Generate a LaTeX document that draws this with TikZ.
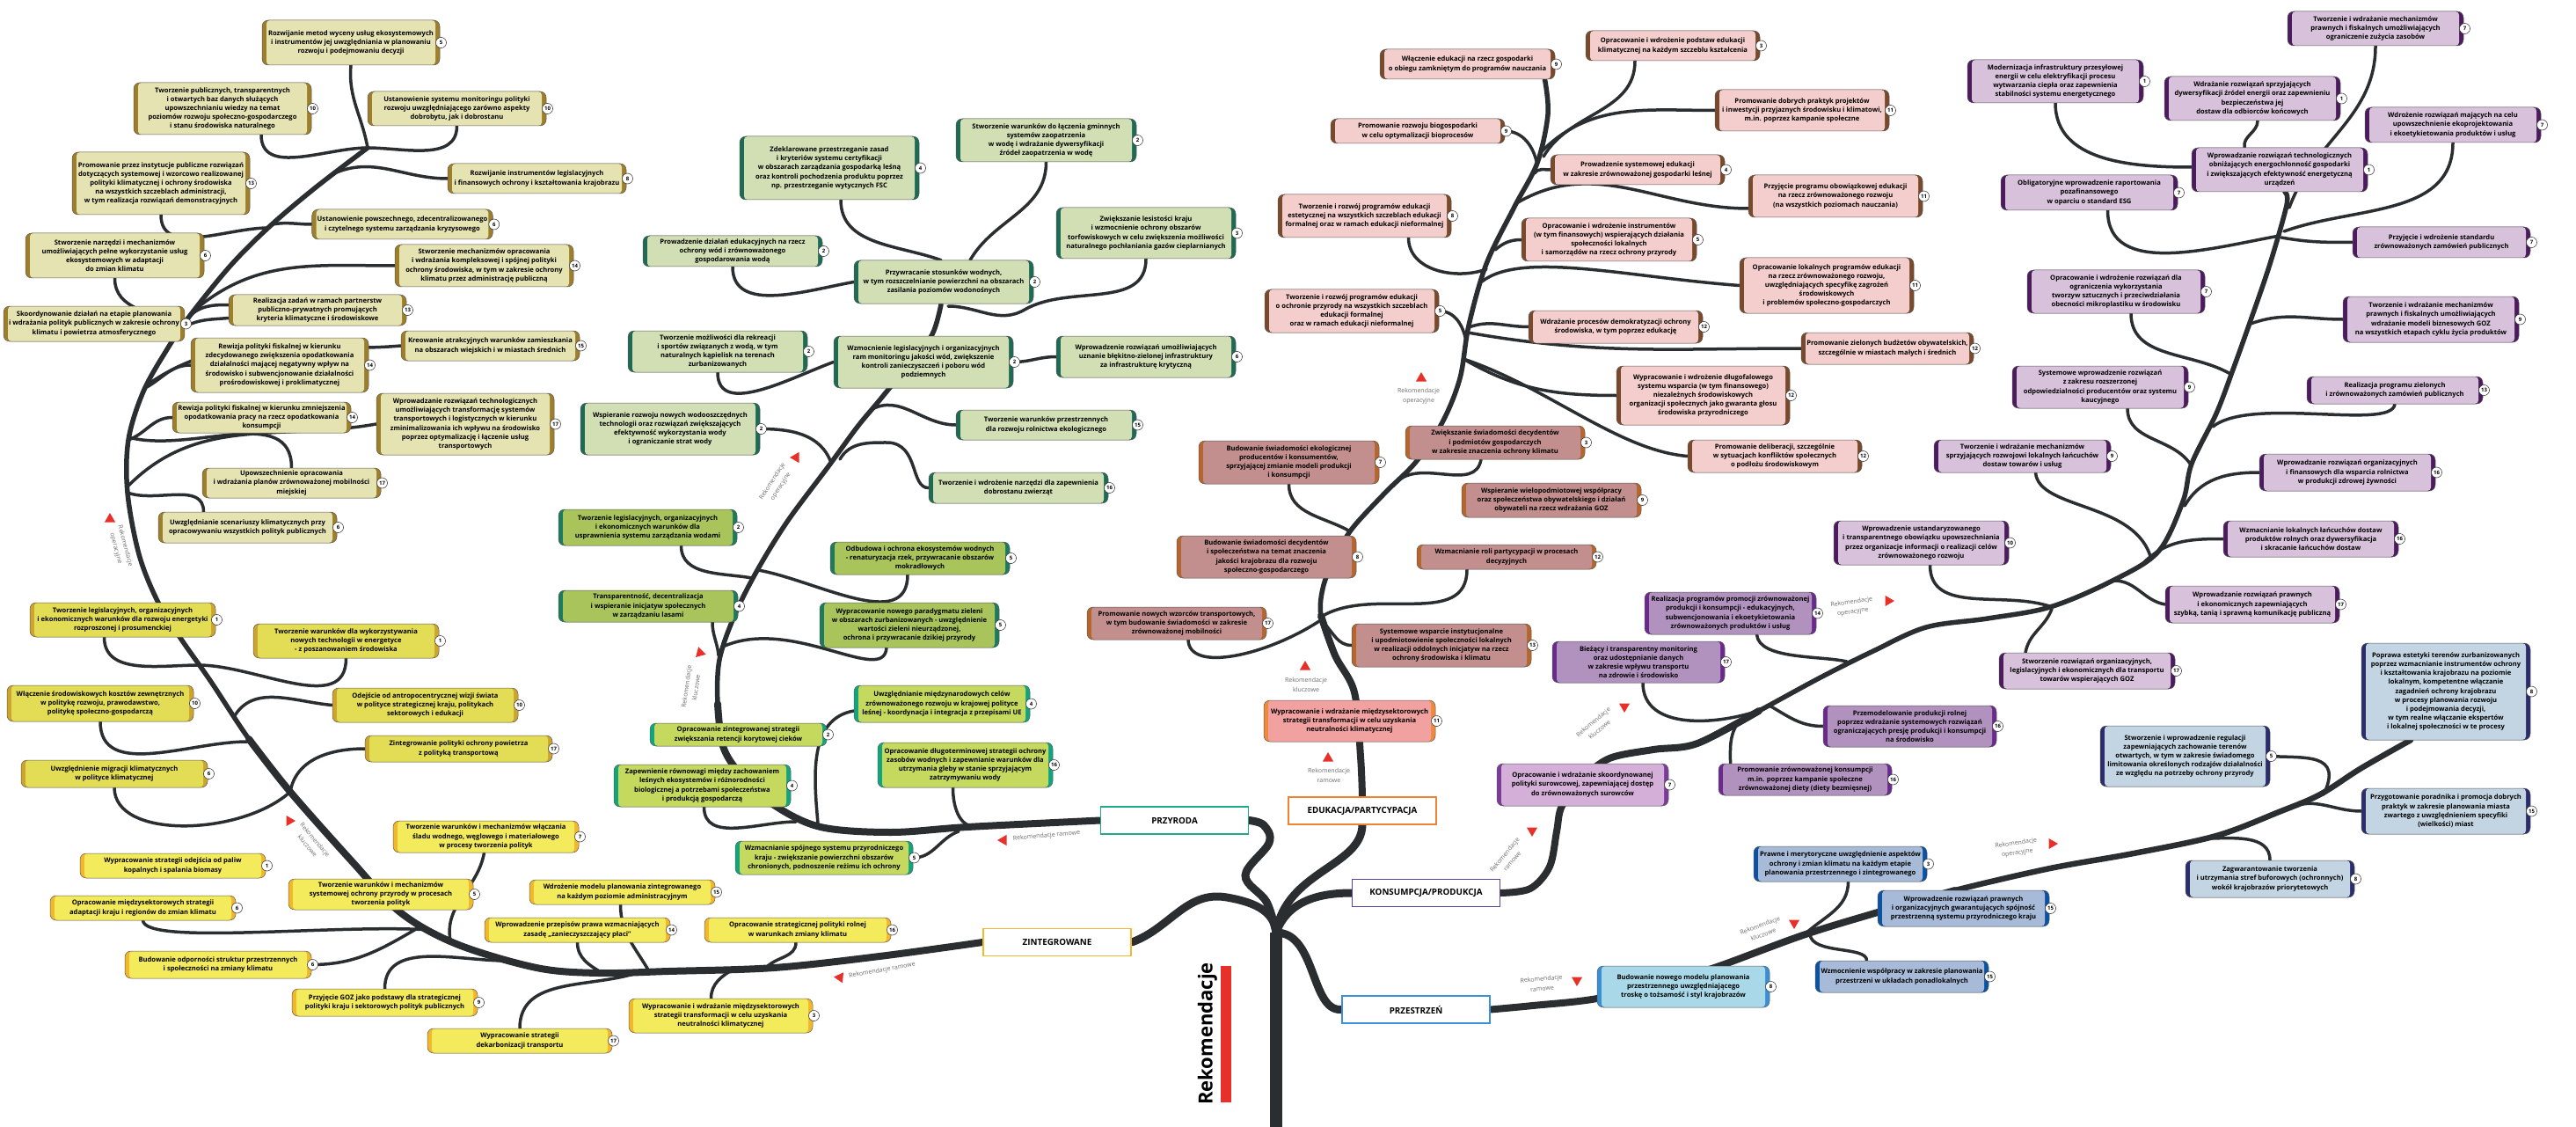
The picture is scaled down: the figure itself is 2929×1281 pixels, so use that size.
\documentclass[tikz,border=0pt]{standalone}
\usepackage{fontspec}
\setmainfont{Open Sans}
\usetikzlibrary{shapes.geometric}
\pgfdeclarelayer{bg}
\pgfsetlayers{bg,main}

% colours of the tree
\definecolor{treec}{HTML}{2B2E31}
\definecolor{redc}{HTML}{E8302A}
\definecolor{labc}{HTML}{6B6B6B}
\definecolor{zopF}{HTML}{E6E3B3}\definecolor{zopS}{HTML}{9C7E2B}
\definecolor{zklF}{HTML}{E3DD56}\definecolor{zklS}{HTML}{CDA42D}
\definecolor{zraF}{HTML}{F4EB5C}\definecolor{zraS}{HTML}{F2B82B}
\definecolor{popF}{HTML}{D2DEB3}\definecolor{popS}{HTML}{1E6A54}
\definecolor{pklF}{HTML}{AAC45C}\definecolor{pklS}{HTML}{1D7A5F}
\definecolor{praF}{HTML}{C4D95E}\definecolor{praS}{HTML}{12A47F}
\definecolor{eopF}{HTML}{F4CECC}\definecolor{eopS}{HTML}{784A2B}
\definecolor{eklF}{HTML}{C28F8E}\definecolor{eklS}{HTML}{B4662D}
\definecolor{eraF}{HTML}{F1A1A0}\definecolor{eraS}{HTML}{F08A3A}
\definecolor{kopF}{HTML}{D8C1DB}\definecolor{kopS}{HTML}{4C1B5E}
\definecolor{kklF}{HTML}{B192BE}\definecolor{kklS}{HTML}{6A2A8C}
\definecolor{kraF}{HTML}{D4AFD7}\definecolor{kraS}{HTML}{7B3B99}
\definecolor{sopF}{HTML}{C3D5E3}\definecolor{sopS}{HTML}{2A2C6C}
\definecolor{sklF}{HTML}{A7BBD9}\definecolor{sklS}{HTML}{0B52A3}
\definecolor{sraF}{HTML}{A9D9E8}\definecolor{sraS}{HTML}{3A8FD4}
\definecolor{przyC}{HTML}{1FA98A}
\definecolor{zintC}{HTML}{F5B82B}
\definecolor{eduC}{HTML}{F08233}
\definecolor{konsC}{HTML}{5B41A0}
\definecolor{przC}{HTML}{3A91D9}

\newcommand{\boxfill}[1]{\fill[#1, rounded corners=4pt] ([xshift=5pt]path picture bounding box.south west) rectangle ([xshift=-5pt]path picture bounding box.north east);}

\tikzstyle{rec} = [rectangle, rounded corners=7pt, draw=black!65, line width=0.5pt, align=center, inner xsep=6pt, inner ysep=2pt, font=\fontsize{7.6}{10.2}\selectfont\bfseries]
\tikzstyle{zintop} = [rec, fill=zopS, path picture={\boxfill{zopF}}]
\tikzstyle{zintkl} = [rec, fill=zklS, path picture={\boxfill{zklF}}]
\tikzstyle{zintram} = [rec, fill=zraS, path picture={\boxfill{zraF}}]
\tikzstyle{przyop} = [rec, fill=popS, path picture={\boxfill{popF}}]
\tikzstyle{przykl} = [rec, fill=pklS, path picture={\boxfill{pklF}}]
\tikzstyle{przyram} = [rec, fill=praS, path picture={\boxfill{praF}}]
\tikzstyle{eduop} = [rec, fill=eopS, path picture={\boxfill{eopF}}]
\tikzstyle{edukl} = [rec, fill=eklS, path picture={\boxfill{eklF}}]
\tikzstyle{eduram} = [rec, fill=eraS, path picture={\boxfill{eraF}}]
\tikzstyle{konsop} = [rec, fill=kopS, path picture={\boxfill{kopF}}]
\tikzstyle{konskl} = [rec, fill=kklS, path picture={\boxfill{kklF}}]
\tikzstyle{konsram} = [rec, fill=kraS, path picture={\boxfill{kraF}}]
\tikzstyle{przop} = [rec, fill=sopS, path picture={\boxfill{sopF}}]
\tikzstyle{przkl} = [rec, fill=sklS, path picture={\boxfill{sklF}}]
\tikzstyle{przram} = [rec, fill=sraS, path picture={\boxfill{sraF}}]
\tikzstyle{badge} = [circle, draw=black!85, line width=0.5pt, fill=white, inner sep=0pt, minimum size=12pt, font=\fontsize{6}{6}\selectfont\bfseries]
\tikzstyle{catbox} = [rectangle, fill=white, line width=1.6pt, minimum width=168pt, minimum height=31pt, font=\fontsize{9.8}{11}\selectfont\bfseries]
\tikzstyle{tri} = [regular polygon, regular polygon sides=3, fill=redc, inner sep=0pt, minimum size=14pt]
\tikzstyle{reklab} = [align=center, text=labc, font=\fontsize{7}{11}\selectfont]
\tikzstyle{trunk} = [draw=treec, line width=14pt]
\tikzstyle{link} = [draw=treec, line width=9pt, line cap=round]
\tikzstyle{bough} = [draw=treec, line width=5.5pt, line cap=round]
\tikzstyle{twig} = [draw=treec, line width=3.5pt, line cap=round]
\tikzset{num/.style={label={[badge]east:#1}}, wh/.style 2 args={minimum width=#1pt, minimum height=#2pt}}

\begin{document}
\begin{tikzpicture}[x=1pt, y=1pt, label distance=-5pt]
\useasboundingbox (0,0) rectangle (2929,-1281);

% main groups
\node (przy) [catbox, draw=przyC] at (1335.5,-932.5) {PRZYRODA};
\node (zint) [catbox, draw=zintC] at (1202,-1071) {ZINTEGROWANE};
\node (edu) [catbox, draw=eduC] at (1549,-921.5) {EDUKACJA/PARTYCYPACJA};
\node (kons) [catbox, draw=konsC] at (1621.5,-1015) {KONSUMPCJA/PRODUKCJA};
\node (prz) [catbox, draw=przC] at (1610,-1147.5) {PRZESTRZEŃ};

\node (rek) [rotate=90, font=\fontsize{22}{24}\selectfont\bfseries] at (1373,-1175) {Rekomendacje};
\node (bar) [fill=redc, minimum width=12pt, minimum height=155pt, inner sep=0pt] at (1394,-1175.5) {};

% ZINTEGROWANE
\node (a1) [zintop, num=5, wh={202}{51}] at (399,-48.5) {Rozwijanie metod wyceny usług ekosystemowych\\i instrumentów jej uwzględniania w planowaniu\\rozwoju i podejmowaniu decyzji};
\node (a2) [zintop, num=10, wh={202}{59}] at (253,-123.5) {Tworzenie publicznych, transparentnych\\i otwartych baz danych służących\\upowszechnianiu wiedzy na temat\\poziomów rozwoju społeczno-gospodarczego\\i stanu środowiska naturalnego};
\node (a3) [zintop, num=10, wh={203}{39}] at (519.5,-123.5) {Ustanowienie systemu monitoringu polityki\\rozwoju uwzględniającego zarówno aspekty\\dobrobytu, jak i dobrostanu};
\node (a4) [zintop, num=8, wh={203}{34}] at (610.5,-203) {Rozwijanie instrumentów legislacyjnych\\i finansowych ochrony i kształtowania krajobrazu};
\node (a5) [zintop, num=13, wh={202}{71}] at (183,-208.5) {Promowanie przez instytucje publiczne rozwiązań\\dotyczących systemowej i wzorcowo realizowanej\\polityki klimatycznej i ochrony środowiska\\na wszystkich szczeblach administracji,\\w tym realizacja rozwiązań demonstracyjnych};
\node (a6) [zintop, num=6, wh={203}{34}] at (457.5,-255) {Ustanowienie powszechnego, zdecentralizowanego\\i czytelnego systemu zarządzania kryzysowego};
\node (a7) [zintop, num=6, wh={203}{51}] at (130.5,-290.5) {Stworzenie narzędzi i mechanizmów\\umożliwiających pełne wykorzystanie usług\\ekosystemowych w adaptacji\\do zmian klimatu};
\node (a8) [zintop, num=14, wh={203}{48}] at (550.5,-302) {Stworzenie mechanizmów opracowania\\i wdrażania kompleksowej i spójnej polityki\\ochrony środowiska, w tym w zakresie ochrony\\klimatu przez administrację publiczną};
\node (a9) [zintop, num=3, wh={204}{40}] at (107,-368) {Skoordynowanie działań na etapie planowania\\i wdrażania polityk publicznych w zakresie ochrony\\klimatu i powietrza atmosferycznego};
\node (a10) [zintop, num=13, wh={202}{35}] at (361,-352.5) {Realizacja zadań w ramach partnerstw\\publiczno-prywatnych promujących\\kryteria klimatyczne i środowiskowe};
\node (a11) [zintop, num=15, wh={203}{34}] at (557.5,-393) {Kreowanie atrakcyjnych warunków zamieszkania\\na obszarach wiejskich i w miastach średnich};
\node (a12) [zintop, num=14, wh={202}{62}] at (318,-415) {Rewizja polityki fiskalnej w kierunku\\zdecydowanego zwiększenia opodatkowania\\działalności mającej negatywny wpływ na\\środowisko i subwencjonowanie działalności\\prośrodowiskowej i proklimatycznej};
\node (a13) [zintop, num=14, wh={203}{35}] at (297.5,-474.5) {Rewizja polityki fiskalnej w kierunku zmniejszenia\\opodatkowania pracy na rzecz opodatkowania\\konsumpcji};
\node (a14) [zintop, num=17, wh={202}{70}] at (529,-482) {Wprowadzanie rozwiązań technologicznych\\umożliwiających transformację systemów\\transportowych i logistycznych w kierunku\\zminimalizowania ich wpływu na środowisko\\poprzez optymalizację i łączenie usług\\transportowych};
\node (a15) [zintop, num=17, wh={203}{34}] at (331.5,-549) {Upowszechnienie opracowania\\i wdrażania planów zrównoważonej mobilności\\miejskiej};
\node (a16) [zintop, num=6, wh={203}{35}] at (281.5,-599.5) {Uwzględnianie scenariuszy klimatycznych przy\\opracowywaniu wszystkich polityk publicznych};
\node (b1) [zintkl, num=1, wh={211}{39}] at (139.5,-704.5) {Tworzenie legislacyjnych, organizacyjnych\\i ekonomicznych warunków dla rozwoju energetyki\\rozproszonej i prosumenckiej};
\node (b2) [zintkl, num=1, wh={211}{39}] at (393.5,-728.5) {Tworzenie warunków dla wykorzystywania\\nowych technologii w energetyce\\- z poszanowaniem środowiska};
\node (b3) [zintkl, num=10, wh={212}{41}] at (114,-799.5) {Włączenie środowiskowych kosztów zewnętrznych\\w politykę rozwoju, prawodawstwo,\\politykę społeczno-gospodarczą};
\node (b4) [zintkl, num=10, wh={211}{39}] at (483.5,-801.5) {Odejście od antropocentrycznej wizji świata\\w polityce strategicznej kraju, politykach\\sektorowych i edukacji};
\node (b5) [zintkl, num=17, wh={213}{30}] at (521.5,-851) {Zintegrowanie polityki ochrony powietrza\\z polityką transportową};
\node (b6) [zintkl, num=6, wh={212}{31}] at (130,-879.5) {Uwzględnienie migracji klimatycznych\\w polityce klimatycznej};
\node (b7) [zintram, num=1, wh={211}{28}] at (196.5,-984) {Wypracowanie strategii odejścia od paliw\\kopalnych i spalania biomasy};
\node (b8) [zintram, num=6, wh={211}{28}] at (162.5,-1032) {Opracowanie międzysektorowych strategii\\adaptacji kraju i regionów do zmian klimatu};
\node (b9) [zintram, num=6, wh={212}{31}] at (248,-1096.5) {Budowanie odporności struktur przestrzennych\\i społeczności na zmiany klimatu};
\node (b10) [zintram, num=5, wh={210}{35}] at (433,-1016.5) {Tworzenie warunków i mechanizmów\\systemowej ochrony przyrody w procesach\\tworzenia polityk};
\node (b11) [zintram, num=7, wh={211}{36}] at (552.5,-951) {Tworzenie warunków i mechanizmów włączania\\śladu wodnego, węglowego i materiałowego\\w procesy tworzenia polityk};
\node (b12) [zintram, num=9, wh={211}{31}] at (437.5,-1139.5) {Przyjęcie GOZ jako podstawy dla strategicznej\\polityki kraju i sektorowych polityk publicznych};
\node (b13) [zintram, num=17, wh={210}{28}] at (591,-1183) {Wypracowanie strategii\\dekarbonizacji transportu};
\node (b14) [zintram, num=15, wh={211}{28}] at (707.5,-1014) {Wdrożenie modelu planowania zintegrowanego\\na każdym poziomie administracyjnym};
\node (b15) [zintram, num=14, wh={211}{28}] at (656.5,-1057) {Wprowadzenie przepisów prawa wzmacniających\\zasadę „zanieczyszczający płaci”};
\node (b16) [zintram, num=16, wh={212}{28}] at (907,-1057) {Opracowanie strategicznej polityki rolnej\\w warunkach zmiany klimatu};
\node (b17) [zintram, num=3, wh={209}{39}] at (819.5,-1154.5) {Wypracowanie i wdrażanie międzysektorowych\\strategii transformacji w celu uzyskania\\neutralności klimatycznej};

% PRZYRODA
\node (c1) [przyop, num=4, wh={204}{72}] at (943,-191) {Zdeklarowane przestrzeganie zasad\\i kryteriów systemu certyfikacji\\w obszarach zarządzania gospodarką leśną\\oraz kontroli pochodzenia produktu poprzez\\np. przestrzeganie wytycznych FSC};
\node (c2) [przyop, num=2, wh={205}{49}] at (1189.5,-159.5) {Stworzenie warunków do łączenia gminnych\\systemów zaopatrzenia\\w wodę i wdrażanie dywersyfikacji\\źródeł zaopatrzenia w wodę};
\node (c3) [przyop, num=2, wh={204}{35}] at (833,-285.5) {Prowadzenie działań edukacyjnych na rzecz\\ochrony wód i zrównoważonego\\gospodarowania wodą};
\node (c4) [przyop, num=2, wh={204}{49}] at (1073,-320.5) {Przywracanie stosunków wodnych,\\w tym rozszczelnianie powierzchni na obszarach\\zasilania poziomów wodonośnych};
\node (c5) [przyop, num=3, wh={204}{58}] at (1303,-265) {Zwiększanie lesistości kraju\\i wzmocnienie ochrony obszarów\\torfowiskowych w celu zwiększenia możliwości\\naturalnego pochłaniania gazów cieplarnianych};
\node (c6) [przyop, num=2, wh={204}{47}] at (816,-399.5) {Tworzenie możliwości dla rekreacji\\i sportów związanych z wodą, w tym\\naturalnych kąpielisk na terenach\\zurbanizowanych};
\node (c7) [przyop, num=2, wh={204}{59}] at (1050,-411.5) {Wzmocnienie legislacyjnych i organizacyjnych\\ram monitoringu jakości wód, zwiększenie\\kontroli zanieczyszczeń i poboru wód\\podziemnych};
\node (c8) [przyop, num=6, wh={204}{47}] at (1303,-405.5) {Wprowadzenie rozwiązań umożliwiających\\uznanie błękitno-zielonej infrastruktury\\za infrastrukturę krytyczną};
\node (c9) [przyop, num=2, wh={204}{59}] at (762,-487.5) {Wspieranie rozwoju nowych wodooszczędnych\\technologii oraz rozwiązań zwiększających\\efektywność wykorzystania wody\\i ograniczanie strat wody};
\node (c10) [przyop, num=15, wh={205}{34}] at (1189.5,-483) {Tworzenie warunków przestrzennych\\dla rozwoju rolnictwa ekologicznego};
\node (c11) [przyop, num=16, wh={204}{35}] at (1158,-554.5) {Tworzenie i wdrożenie narzędzi dla zapewnienia\\dobrostanu zwierząt};
\node (c12) [przykl, num=2, wh={203}{41}] at (736.5,-599.5) {Tworzenie legislacyjnych, organizacyjnych\\i ekonomicznych warunków dla\\usprawnienia systemu zarządzania wodami};
\node (c13) [przykl, num=4, wh={204}{36}] at (737,-689) {Transparentność, decentralizacja\\i wspieranie inicjatyw społecznych\\w zarządzaniu lasami};
\node (c14) [przykl, num=5, wh={204}{37}] at (1046,-634.5) {Odbudowa i ochrona ekosystemów wodnych\\- renaturyzacja rzek, przywracanie obszarów\\mokradłowych};
\node (c15) [przykl, num=5, wh={204}{51}] at (1034,-710.5) {Wypracowanie nowego paradygmatu zieleni\\w obszarach zurbanizowanych - uwzględnienie\\wartości zieleni nieurządzonej,\\ochrona i przywracanie dzikiej przyrody};
\node (c16) [przyram, num=4, wh={200}{42}] at (1071,-800) {Uwzględnianie międzynarodowych celów\\zrównoważonego rozwoju w krajowej polityce\\leśnej - koordynacja i integracja z przepisami UE};
\node (c17) [przyram, num=2, wh={201}{26}] at (839.5,-835) {Opracowanie zintegrowanej strategii\\zwiększania retencji korytowej cieków};
\node (c18) [przyram, num=16, wh={199}{51}] at (1097.5,-869.5) {Opracowanie długoterminowej strategii ochrony\\zasobów wodnych i zapewnianie warunków dla\\utrzymania gleby w stanie sprzyjającym\\zatrzymywaniu wody};
\node (c19) [przyram, num=4, wh={201}{48}] at (798.5,-893) {Zapewnienie równowagi między zachowaniem\\leśnych ekosystemów i różnorodności\\biologicznej a potrzebami społeczeństwa\\i produkcją gospodarczą};
\node (c20) [przyram, num=5, wh={202}{38}] at (937,-975) {Wzmacnianie spójnego systemu przyrodniczego\\kraju - zwiększanie powierzchni obszarów\\chronionych, podnoszenie reżimu ich ochrony};

% EDUKACJA/PARTYCYPACJA
\node (d1) [eduop, num=9, wh={199}{34}] at (1668.5,-73) {Włączenie edukacji na rzecz gospodarki\\o obiegu zamkniętym do programów nauczania};
\node (d2) [eduop, num=3, wh={198}{34}] at (1902,-52) {Opracowanie i wdrożenie podstaw edukacji\\klimatycznej na każdym szczeblu kształcenia};
\node (d3) [eduop, num=9, wh={198}{28}] at (1612,-149) {Promowanie rozwoju biogospodarki\\w celu optymalizacji bioprocesów};
\node (d4) [eduop, num=11, wh={198}{47}] at (2049,-125.5) {Promowanie dobrych praktyk projektów\\i inwestycji przyjaznych środowisku i klimatowi,\\m.in. poprzez kampanie społeczne};
\node (d5) [eduop, num=4, wh={198}{34}] at (1862,-193) {Prowadzenie systemowej edukacji\\w zakresie zrównoważonej gospodarki leśnej};
\node (d6) [eduop, num=11, wh={198}{48}] at (2087,-223) {Przyjęcie programu obowiązkowej edukacji\\na rzecz zrównoważonego rozwoju\\(na wszystkich poziomach nauczania)};
\node (d7) [eduop, num=8, wh={197}{49}] at (1551.5,-245.5) {Tworzenie i rozwój programów edukacji\\estetycznej na wszystkich szczeblach edukacji\\formalnej oraz w ramach edukacji nieformalnej};
\node (d8) [eduop, num=5, wh={199}{49}] at (1829.5,-272.5) {Opracowanie i wdrożenie instrumentów\\(w tym finansowych) wspierających działania\\społeczności lokalnych\\i samorządów na rzecz ochrony przyrody};
\node (d9) [eduop, num=11, wh={198}{63}] at (2077,-324.5) {Opracowanie lokalnych programów edukacji\\na rzecz zrównoważonego rozwoju,\\uwzględniających specyfikę zagrożeń\\środowiskowych\\i problemów społeczno-gospodarczych};
\node (d10) [eduop, num=5, wh={198}{49}] at (1537,-353.5) {Tworzenie i rozwój programów edukacji\\o ochronie przyrody na wszystkich szczeblach\\edukacji formalnej\\oraz w ramach edukacji nieformalnej};
\node (d11) [eduop, num=12, wh={198}{37}] at (1837,-371.5) {Wdrażanie procesów demokratyzacji ochrony\\środowiska, w tym poprzez edukację};
\node (d12) [eduop, num=12, wh={196}{36}] at (2146,-396) {Promowanie zielonych budżetów obywatelskich,\\szczególnie w miastach małych i średnich};
\node (d13) [eduop, num=12, wh={197}{67}] at (1936.5,-449.5) {Wypracowanie i wdrożenie długofalowego\\systemu wsparcia (w tym finansowego)\\niezależnych środowiskowych\\organizacji społecznych jako gwaranta głosu\\środowiska przyrodniczego};
\node (d14) [eduop, num=12, wh={198}{37}] at (2018,-518.5) {Promowanie deliberacji, szczególnie\\w sytuacjach konfliktów społecznych\\o podłożu środowiskowym};
\node (d15) [edukl, num=3, wh={204}{38}] at (1700,-503) {Zwiększanie świadomości decydentów\\i podmiotów gospodarczych\\w zakresie znaczenia ochrony klimatu};
\node (d16) [edukl, num=7, wh={205}{49}] at (1465.5,-525.5) {Budowanie świadomości ekologicznej\\producentów i konsumentów,\\sprzyjającej zmianie modeli produkcji\\i konsumpcji};
\node (d17) [edukl, num=9, wh={204}{39}] at (1764,-568.5) {Wspieranie wielopodmiotowej współpracy\\oraz społeczeństwa obywatelskiego i działań\\obywateli na rzecz wdrażania GOZ};
\node (d18) [edukl, num=8, wh={204}{48}] at (1440,-633) {Budowanie świadomości decydentów\\i społeczeństwa na temat znaczenia\\jakości krajobrazu dla rozwoju\\społeczno-gospodarczego};
\node (d19) [edukl, num=12, wh={204}{28}] at (1713,-633) {Wzmacnianie roli partycypacji w procesach\\decyzyjnych};
\node (d20) [edukl, num=17, wh={204}{37}] at (1338,-708.5) {Promowanie nowych wzorców transportowych,\\w tym budowanie świadomości w zakresie\\zrównoważonej mobilności};
\node (d21) [edukl, num=13, wh={204}{49}] at (1639,-733.5) {Systemowe wsparcie instytucjonalne\\i upodmiotowienie społeczności lokalnych\\w realizacji oddolnych inicjatyw na rzecz\\ochrony środowiska i klimatu};
\node (d22) [eduram, num=11, wh={195}{47}] at (1534.5,-819.5) {Wypracowanie i wdrażanie międzysektorowych\\strategii transformacji w celu uzyskania\\neutralności klimatycznej};

% KONSUMPCJA/PRODUKCJA
\node (e1) [konsop, num=7, wh={200}{39}] at (2701,-32.5) {Tworzenie i wdrażanie mechanizmów\\prawnych i fiskalnych umożliwiających\\ograniczenie zużycia zasobów};
\node (e2) [konsop, num=1, wh={200}{49}] at (2337,-92.5) {Modernizacja infrastruktury przesyłowej\\energii w celu elektryfikacji procesu\\wytwarzania ciepła oraz zapewnienia\\stabilności systemu energetycznego};
\node (e3) [konsop, num=1, wh={200}{50}] at (2561,-112) {Wdrażanie rozwiązań sprzyjających\\dywersyfikacji źródeł energii oraz zapewnieniu\\bezpieczeństwa jej\\dostaw dla odbiorców końcowych};
\node (e4) [konsop, num=7, wh={200}{40}] at (2789,-142) {Wdrożenie rozwiązań mających na celu\\upowszechnienie ekoprojektowania\\i ekoetykietowania produktów i usług};
\node (e5) [konsop, num=1, wh={200}{50}] at (2592,-193) {Wprowadzanie rozwiązań technologicznych\\obniżających energochłonność gospodarki\\i zwiększających efektywność energetyczną\\urządzeń};
\node (e6) [konsop, num=7, wh={201}{40}] at (2375.5,-219) {Obligatoryjne wprowadzenie raportowania\\pozafinansowego\\w oparciu o standard ESG};
\node (e7) [konsop, num=7, wh={202}{35}] at (2776,-275.5) {Przyjęcie i wdrożenie standardu\\zrównoważonych zamówień publicznych};
\node (e8) [konsop, num=7, wh={202}{49}] at (2406,-331.5) {Opracowanie i wdrożenie rozwiązań dla\\ograniczenia wykorzystania\\tworzyw sztucznych i przeciwdziałania\\obecności mikroplastiku w środowisku};
\node (e9) [konsop, num=9, wh={200}{52}] at (2764,-363) {Tworzenie i wdrażanie mechanizmów\\prawnych i fiskalnych umożliwiających\\wdrażanie modeli biznesowych GOZ\\na wszystkich etapach cyklu życia produktów};
\node (e10) [konsop, num=9, wh={200}{48}] at (2388,-440) {Systemowe wprowadzenie rozwiązań\\z zakresu rozszerzonej\\odpowiedzialności producentów oraz systemu\\kaucyjnego};
\node (e11) [konsop, num=13, wh={200}{31}] at (2723,-443.5) {Realizacja programu zielonych\\i zrównoważonych zamówień publicznych};
\node (e12) [konsop, num=9, wh={201}{37}] at (2299.5,-518.5) {Tworzenie i wdrażanie mechanizmów\\sprzyjających rozwojowi lokalnych łańcuchów\\dostaw towarów i usług};
\node (e13) [konsop, num=16, wh={200}{42}] at (2669,-537) {Wprowadzanie rozwiązań organizacyjnych\\i finansowych dla wsparcia rolnictwa\\w produkcji zdrowej żywności};
\node (e14) [konsop, num=10, wh={199}{50}] at (2184.5,-617) {Wprowadzenie ustandaryzowanego\\i transparentnego obowiązku upowszechniania\\przez organizacje informacji o realizacji celów\\zrównoważonego rozwoju};
\node (e15) [konsop, num=16, wh={199}{41}] at (2627.5,-612.5) {Wzmacnianie lokalnych łańcuchów dostaw\\produktów rolnych oraz dywersyfikacja\\i skracanie łańcuchów dostaw};
\node (e16) [konsop, num=17, wh={198}{42}] at (2561,-687) {Wprowadzanie rozwiązań prawnych\\i ekonomicznych zapewniających\\szybką, tanią i sprawną komunikację publiczną};
\node (e17) [konsop, num=17, wh={200}{41}] at (2373,-762.5) {Stworzenie rozwiązań organizacyjnych,\\legislacyjnych i ekonomicznych dla transportu\\towarów wspierających GOZ};
\node (e18) [konskl, num=14, wh={195}{48}] at (1967.5,-697) {Realizacja programów promocji zrównoważonej\\produkcji i konsumpcji - edukacyjnych,\\subwencjonowania i ekoetykietowania\\zrównoważonych produktów i usług};
\node (e19) [konskl, num=17, wh={196}{47}] at (1863,-752.5) {Bieżący i transparentny monitoring\\oraz udostępnianie danych\\w zakresie wpływu transportu\\na zdrowie i środowisko};
\node (e20) [konskl, num=16, wh={197}{47}] at (2171.5,-825.5) {Przemodelowanie produkcji rolnej\\poprzez wdrażanie systemowych rozwiązań\\ograniczających presję produkcji i konsumpcji\\na środowisko};
\node (e21) [konskl, num=16, wh={197}{36}] at (2052.5,-886) {Promowanie zrównoważonej konsumpcji\\m.in. poprzez kampanie społeczne\\zrównoważonej diety (diety bezmięsnej)};
\node (e22) [konsram, num=7, wh={195}{48}] at (1799.5,-892) {Opracowanie i wdrażanie skoordynowanej\\polityki surowcowej, zapewniającej dostęp\\do zrównoważonych surowców};

% PRZESTRZEŃ
\node (f1) [przop, num=8, wh={192}{110}] at (2781,-786) {Poprawa estetyki terenów zurbanizowanych\\poprzez wzmacnianie instrumentów ochrony\\i kształtowania krajobrazu na poziomie\\lokalnym, kompetentne włączanie\\zagadnień ochrony krajobrazu\\w procesy planowania rozwoju\\i podejmowania decyzji,\\w tym realne włączanie ekspertów\\i lokalnej społeczności w te procesy};
\node (f2) [przop, num=5, wh={193}{69}] at (2484.5,-859.5) {Stworzenie i wprowadzenie regulacji\\zapewniających zachowanie terenów\\otwartych, w tym w zakresie świadomego\\limitowania określonych rodzajów działalności\\ze względu na potrzeby ochrony przyrody};
\node (f3) [przop, num=15, wh={192}{52}] at (2781,-922) {Przygotowanie poradnika i promocja dobrych\\praktyk w zakresie planowania miasta\\zwartego z uwzględnieniem specyfiki\\(wielkości) miast};
\node (f4) [przop, num=8, wh={192}{42}] at (2581,-999) {Zagwarantowanie tworzenia\\i utrzymania stref buforowych (ochronnych)\\wokół krajobrazów priorytetowych};
\node (f5) [przkl, num=3, wh={197}{40}] at (2092.5,-982) {Prawne i merytoryczne uwzględnienie aspektów\\ochrony i zmian klimatu na każdym etapie\\planowania przestrzennego i zintegrowanego};
\node (f6) [przkl, num=15, wh={195}{41}] at (2232.5,-1032.5) {Wprowadzenie rozwiązań prawnych\\i organizacyjnych gwarantujących spójność\\przestrzenną systemu przyrodniczego kraju};
\node (f7) [przkl, num=15, wh={197}{36}] at (2162.5,-1110) {Wzmocnienie współpracy w zakresie planowania\\przestrzeni w układach ponadlokalnych};
\node (f8) [przram, num=8, wh={196}{47}] at (1914,-1121.5) {Budowanie nowego modelu planowania\\przestrzennego uwzględniającego\\troskę o tożsamość i styl krajobrazów};

% markers
\node (t1) [tri] at (125,-590) {};
\node (l1) [reklab, rotate=-75] at (137,-622) {Rekomendacje\\operacyjne};
\node (t2) [tri, rotate=30] at (329,-933) {};
\node (l2) [reklab, rotate=-50] at (354,-958) {Rekomendacje\\kluczowe};
\node (t3) [tri, rotate=90] at (1141,-955) {};
\node (l3) [reklab, rotate=5] at (1190,-950) {Rekomendacje ramowe};
\node (t4) [tri, rotate=85] at (955,-1111) {};
\node (l4) [reklab, rotate=10] at (1003,-1103) {Rekomendacje ramowe};
\node (t5) [tri, rotate=-30] at (905,-520) {};
\node (l5) [reklab, rotate=57] at (883,-550) {Rekomendacje\\operacyjne};
\node (t6) [tri, rotate=15] at (796,-742) {};
\node (l6) [reklab, rotate=82] at (786,-781) {Rekomendacje\\kluczowe};
\node (t7) [tri] at (1616,-430) {};
\node (l7) [reklab] at (1613,-450) {Rekomendacje\\operacyjne};
\node (t8) [tri] at (1484,-758) {};
\node (l8) [reklab] at (1485,-778) {Rekomendacje\\kluczowe};
\node (t9) [tri] at (1510,-862) {};
\node (l9) [reklab] at (1511,-881) {Rekomendacje\\ramowe};
\node (t10) [tri, rotate=-90] at (2147,-683) {};
\node (l10) [reklab, rotate=8] at (2106,-690) {Rekomendacje\\operacyjne};
\node (t11) [tri, rotate=180] at (1847,-803) {};
\node (l11) [reklab, rotate=40] at (1815,-825) {Rekomendacje\\kluczowe};
\node (t12) [tri, rotate=180] at (1742,-944) {};
\node (l12) [reklab, rotate=50] at (1715,-975) {Rekomendacje\\ramowe};
\node (t13) [tri, rotate=180] at (2040,-1049) {};
\node (l13) [reklab, rotate=20] at (2003,-1057) {Rekomendacje\\kluczowe};
\node (t14) [tri, rotate=180] at (1793,-1114) {};
\node (l14) [reklab, rotate=5] at (1753,-1118) {Rekomendacje\\ramowe};
\node (t15) [tri, rotate=-90] at (2333,-959) {};
\node (l15) [reklab, rotate=8] at (2293,-964) {Rekomendacje\\operacyjne};

\begin{pgfonlayer}{bg}
% trunk and the five main groups
\coordinate (root) at (1451,-1281);
\coordinate (fork) at (1451,-1060);
\draw[trunk] (root) -- (fork);
\draw[link] (fork) to[out=95,in=-10] (1395,-1020) to[out=170,in=20] (zint.east);
\draw[link] plot[smooth, tension=0.6] coordinates {(fork) (1440,-1025) (1416,-995) (1443,-958) (1437,-938) (przy.east)};
\draw[link] (edu.south) .. controls (1548,-985) and (1462,-990) .. (fork);
\draw[link] (kons.west) to[out=180,in=70] (fork);
\draw[link] (prz.west) .. controls (1490,-1150) and (1497,-1060) .. (fork);

% ZINTEGROWANE branch
\draw[bough, line width=8pt] plot[smooth, tension=0.55] coordinates {(zint.west) (1000,-1087) (880,-1100) (760,-1104) (680,-1106) (610,-1100) (519,-1073) (455,-1037) (401,-980) (330,-900) (283,-840)};
\draw[bough] plot[smooth, tension=0.55] coordinates {(330,-900) (283,-840) (240,-775) (205,-725) (179,-683) (158,-630) (145,-560) (146,-500) (163,-445) (190,-397) (215,-360) (262,-302) (307,-257) (359,-213) (418,-168)};
\draw[twig] (a1.south) to[out=-95,in=100] (418,-168);
\draw[twig] ([xshift=44pt]a2.south) to[out=-90,in=180] (418,-168);
\draw[twig] (a3.south) to[out=-90,in=0] (418,-168);
\draw[twig] (a4.west) to[out=180,in=25] (378,-198);
\draw[twig] (a5.south) to[out=-90,in=180] (305,-259);
\draw[twig] (a6.west) to[out=180,in=10] (310,-255);
\draw[twig] (a7.south) to[out=-90,in=150] (206,-372);
\draw[twig] ([yshift=6pt]a10.west) to[out=180,in=45] (215,-360);
\draw[twig] ([yshift=-9pt]a10.west) to[out=185,in=30] (207,-373);
\draw[twig] (a8.west) to[out=180,in=40] (222,-352);
\draw[twig] (a11.west) to[out=185,in=35] (168,-437);
\draw[twig] (a12.west) to[out=180,in=30] (167,-440);
\draw[twig] (a13.west) to[out=180,in=20] (146,-500);
\draw[twig] (a14.west) to[out=190,in=45] (146,-552);
\draw[twig] (a15.north) to[out=90,in=-15] (146,-497);
\draw[twig] ([xshift=-50pt]a16.north) to[out=90,in=-20] (145,-560);
\draw[twig] ([xshift=-21pt]b1.south) to[out=-90,in=180] (226,-756);
\draw[twig] (b2.south) to[out=-90,in=0] (226,-756);
\draw[twig] (b3.south) to[out=-90,in=180] (281,-843);
\draw[twig] (b4.west) to[out=175,in=60] (266,-815);
\draw[twig] (b5.west) to[out=180,in=80] (330,-900);
\draw[twig] (b6.south) .. controls (130,-955) and (275,-950) .. (330,-900);
\draw[twig] (b8.south) .. controls (165,-1075) and (380,-1050) .. (490,-1057);
\draw[twig] (b9.east) to[out=0,in=210] (480,-1052);
\draw[twig] ([xshift=-2pt]b11.south) to[out=-100,in=100] (512,-1069);
\draw[twig] (b12.north) to[out=90,in=180] (575,-1092);
\draw[twig] (b13.north) to[out=90,in=200] (730,-1104);
\draw[twig] ([xshift=-2pt]b14.south) to[out=-90,in=120] (738,-1104);
\draw[twig] (b15.south) to[out=-90,in=150] (685,-1106);
\draw[twig] ([xshift=-2pt]b16.south) to[out=-90,in=45] (872,-1099);
\draw[twig] ([xshift=-11pt]b17.north) to[out=90,in=-150] (835,-1101);

% PRZYRODA branch
\draw[bough, line width=8pt] plot[smooth, tension=0.55] coordinates {(przy.west) (1100,-940) (1013,-946) (933,-940) (880,-915) (842,-880) (822,-848) (816,-800)};
\draw[bough] plot[smooth, tension=0.55] coordinates {(822,-848) (816,-800) (818,-750) (835,-700) (860,-650) (895,-593) (942,-530) (975,-485) (1000,-455) (1035,-412) (1060,-380) (1070,-346)};
\draw[twig] ([xshift=13pt]c1.south) to[out=-90,in=160] ([xshift=-3pt]c4.north);
\draw[twig] (c2.south) to[out=-90,in=60] ([xshift=30pt]c4.north);
\draw[twig] (c3.south) to[out=-90,in=190] (c4.west);
\draw[twig] (c5.south) to[out=-90,in=30] (1165,-352) to[out=210,in=0] (1078,-348);
\draw[twig] (c6.south) to[out=-90,in=200] (c7.west);
\draw[twig] (c8.west) to[out=180,in=0] (c7.east);
\draw[twig] (c9.east) to[out=0,in=110] (945,-526);
\draw[twig] (c10.west) to[out=180,in=30] (990,-466);
\draw[twig] (c11.west) .. controls (1035,-555) and (1045,-505) .. (1010,-503) to[out=180,in=60] (955,-522);
\draw[twig] ([xshift=38pt]c12.south) to[out=-90,in=170] (855,-657);
\draw[twig] ([xshift=73pt]c13.south) to[out=-90,in=95] (817,-745);
\draw[twig] ([xshift=-14pt]c14.south) to[out=-90,in=-10] (862,-648);
\draw[twig] ([xshift=-26pt]c15.south) .. controls (1005,-780) and (900,-700) .. (822,-735);
\draw[twig] ([yshift=-8pt]c16.west) to[out=190,in=95] (930,-936);
\draw[twig] ([xshift=-14pt]c18.south) to[out=-90,in=180] (1110,-940);
\draw[twig] ([xshift=2pt]c19.south) to[out=-90,in=180] (905,-934);
\draw[twig] (c20.east) to[out=0,in=200] (1090,-945);

% EDUKACJA/PARTYCYPACJA branch
\draw[bough, line width=8pt] plot[smooth, tension=0.55] coordinates {(edu.north) (1547,-860) (1540,-787) (1518,-745) (1502,-700)};
\draw[bough] plot[smooth, tension=0.55] coordinates {(1518,-745) (1502,-700) (1505,-665) (1520,-630) (1538,-600) (1575,-560) (1610,-525) (1640,-480) (1660,-430) (1670,-370) (1690,-300) (1722,-235) (1748,-185) (1760,-130) ([xshift=88pt]d1.south)};
\draw[twig] ([xshift=-43pt]d2.south) to[out=-90,in=60] (1755,-178);
\draw[twig] (d3.east) to[out=0,in=100] (1748,-188);
\draw[twig] (d4.west) to[out=180,in=45] (1753,-172);
\draw[twig] (d5.west) to[out=180,in=60] (1745,-197);
\draw[twig] ([yshift=-14pt]d6.west) to[out=180,in=30] (1726,-230);
\draw[twig] ([xshift=50pt]d7.south) to[out=-90,in=200] (1690,-306);
\draw[twig] (d8.west) to[out=180,in=40] (1700,-284);
\draw[twig] (d9.west) .. controls (1850,-315) and (1730,-285) .. (1685,-320);
\draw[twig] (d10.east) to[out=0,in=100] (1667,-388);
\draw[twig] (d11.west) to[out=180,in=20] (1670,-372);
\draw[twig] (d12.west) to[out=180,in=-10] (1669,-378);
\draw[twig] (d13.west) to[out=180,in=-30] (1664,-408);
\draw[twig] (d14.west) .. controls (1840,-512) and (1760,-440) .. (1664,-408);
\draw[twig] ([xshift=-16pt]d15.south) to[out=-100,in=45] (1588,-548);
\draw[twig] (d16.south) to[out=-90,in=150] (1535,-604);
\draw[twig] ([xshift=-45pt]d19.south) to[out=-90,in=30] (1504,-700);
\draw[twig] ([xshift=13pt]d20.south) .. controls (1352,-765) and (1440,-745) .. (1500,-706);
\draw[twig] (d21.west) to[out=180,in=-45] (1505,-708);

% KONSUMPCJA/PRODUKCJA branch
\draw[bough, line width=8pt] plot[smooth, tension=0.55] coordinates {(kons.east) (1740,-1010) (1762,-985) (1770,-945) (1776,-916) (1800,-885) (1830,-862) (1880,-852) (1930,-845) (2000,-808)};
\draw[bough] plot[smooth, tension=0.55] coordinates {(1930,-845) (2000,-808) (2070,-770) (2130,-740) (2190,-713) (2260,-703) (2331,-690) (2402,-660) (2454,-627) (2482,-570) (2492,-527) (2520,-470) (2539,-420) (2558,-367) (2581,-300) (2600,-233) ([xshift=6pt]e5.south)};
\draw[twig] (e1.south) to[out=-90,in=70] (2603,-236);
\draw[twig] (e2.south) to[out=-90,in=180] ([yshift=3pt]e5.west);
\draw[twig] ([xshift=6pt]e3.south) to[out=-90,in=100] ([xshift=-40pt]e5.north);
\draw[twig] (e4.south) to[out=-90,in=20] (2597,-263);
\draw[twig] ([xshift=21pt]e6.south) to[out=-90,in=190] (2592,-268);
\draw[twig] (e7.west) to[out=180,in=-10] (2594,-270);
\draw[twig] ([xshift=17pt]e8.south) to[out=-90,in=150] (2536,-425);
\draw[twig] (e9.west) to[out=180,in=20] (2559,-368);
\draw[twig] ([xshift=31pt]e10.south) to[out=-90,in=120] (2492,-530);
\draw[twig] (e11.south) .. controls (2720,-490) and (2560,-450) .. (2516,-485);
\draw[twig] ([xshift=15pt]e12.south) .. controls (2318,-580) and (2430,-570) .. (2446,-636);
\draw[twig] (e13.west) to[out=180,in=60] (2484,-575);
\draw[twig] ([xshift=10pt]e14.south) to[out=-90,in=160] (2333,-690);
\draw[twig] (e15.west) to[out=180,in=45] (2437,-640);
\draw[twig] (e16.west) to[out=170,in=0] (2404,-660);
\draw[twig] ([xshift=-70pt]e17.north) to[out=80,in=-110] (2333,-692);
\draw[twig] ([xshift=30pt]e18.south) .. controls (2000,-750) and (2070,-745) .. (2100,-752);
\draw[twig] ([xshift=5pt]e19.south) to[out=-90,in=200] (2005,-806);
\draw[twig] (e20.west) to[out=180,in=-30] (2012,-802);
\draw[twig] ([xshift=-85pt]e21.north) to[out=90,in=-120] (1975,-823);

% PRZESTRZEN branch
\draw[bough, line width=8pt] plot[smooth, tension=0.55] coordinates {(prz.east) (1743,-1143) (1816,-1135) (1900,-1115) (1955,-1098) (2050,-1063) (2135,-1037) (2223,-1012)};
\draw[bough, line width=6.5pt] plot[smooth, tension=0.55] coordinates {(2135,-1037) (2223,-1012) (2331,-987) (2426,-970) (2520,-950) (2591,-923) (2638,-903) (2685,-873) ([xshift=-40pt]f1.south)};
\draw[twig] (f2.east) .. controls (2620,-862) and (2665,-855) .. (2642,-903);
\draw[twig] (f3.west) to[out=180,in=20] (2606,-917);
\draw[twig] (f4.north) to[out=90,in=0] (2508,-953);
\draw[twig] ([xshift=9pt]f5.south) to[out=-90,in=45] (2050,-1064);
\draw[twig] ([xshift=-40pt]f7.north) .. controls (2123,-1075) and (2060,-1085) .. (2058,-1062);
\end{pgfonlayer}
\end{tikzpicture}
\end{document}
